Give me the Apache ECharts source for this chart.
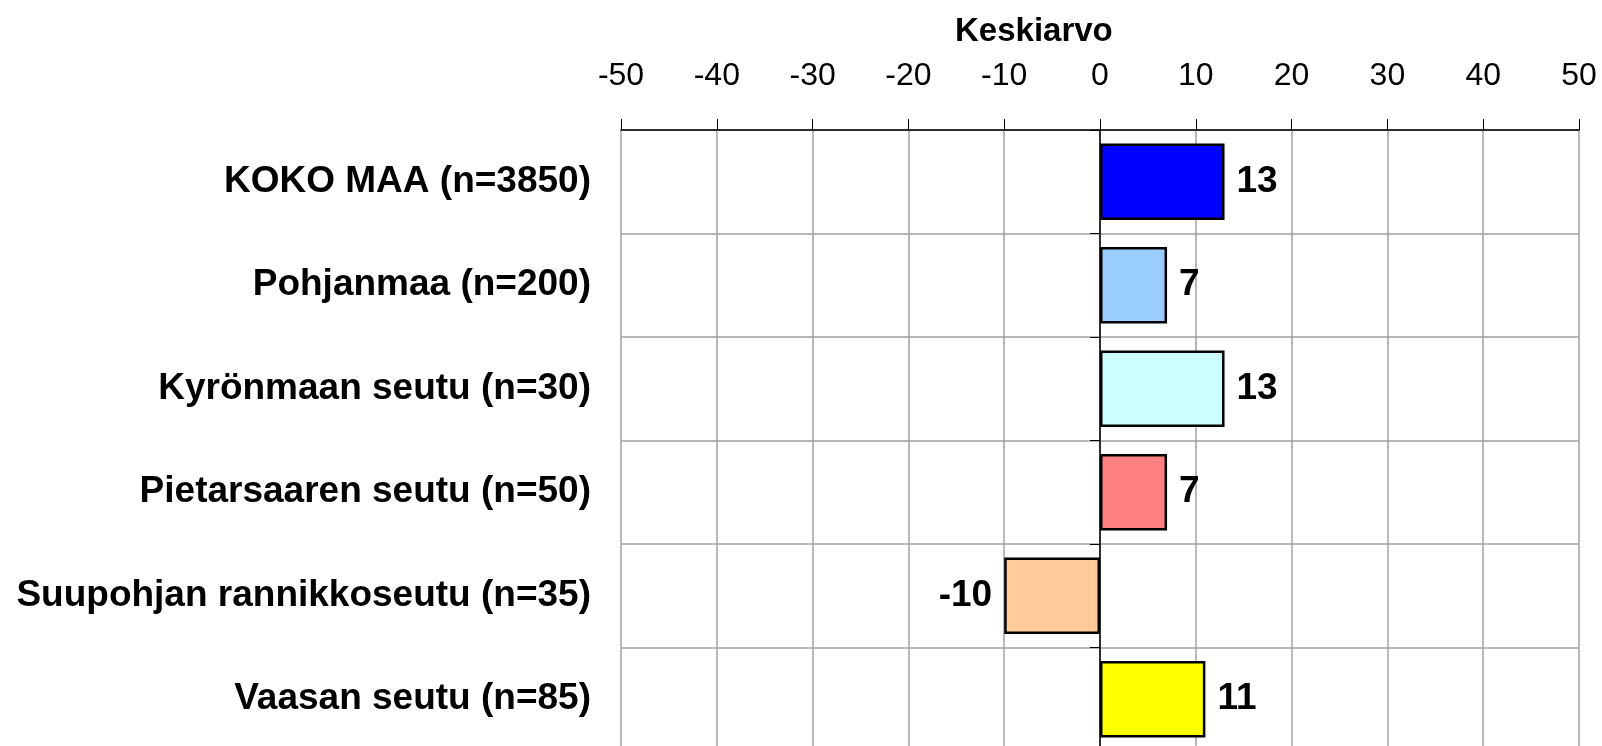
<!DOCTYPE html>
<html>
<head>
<meta charset="utf-8">
<script src="https://cdn.jsdelivr.net/npm/echarts@6/dist/echarts.min.js"></script>
<style>
  html, body { margin: 0; padding: 0; background: #fff; }
  #chart { width: 1602px; height: 746px; }
</style>
</head>
<body>
<div id="chart"></div>
<script>
// Data
const categories = [
  "KOKO MAA (n=3850)",
  "Pohjanmaa (n=200)",
  "Kyrönmaan seutu (n=30)",
  "Pietarsaaren seutu (n=50)",
  "Suupohjan rannikkoseutu (n=35)",
  "Vaasan seutu (n=85)"
];
const values = [13, 7, 13, 7, -10, 11];
const barColors = ["#0000ff", "#99ccff", "#ccffff", "#ff8080", "#ffcc99", "#ffff00"];
const axisName = "Keskiarvo";

const font = "'Liberation Sans', Arial, sans-serif";

const chart = echarts.init(document.getElementById("chart"));

const option = {
  animation: false,
  textStyle: { fontFamily: font },
  title: {
    text: axisName,
    left: 950,
    top: 10,
    textStyle: { fontFamily: font, fontSize: 33, fontWeight: "bold", color: "#000" }
  },
  grid: { left: 621, right: 23, top: 130, height: 621, containLabel: false, outerBoundsMode: "none" },
  xAxis: {
    type: "value",
    position: "top",
    min: -50,
    max: 50,
    interval: 10,
    axisLine: { show: true, lineStyle: { color: "#000", width: 1.5 } },
    axisTick: { show: true, length: 11, lineStyle: { color: "#000" } },
    axisLabel: { fontSize: 32, color: "#000", margin: 38, fontFamily: font },
    splitLine: { show: true, lineStyle: { color: "#a0a0a0", width: 1.5 } }
  },
  yAxis: {
    type: "category",
    data: categories,
    inverse: true,
    axisLine: { show: true, onZero: true, lineStyle: { color: "#000", width: 1.5 } },
    axisTick: { show: true, length: 10, lineStyle: { color: "#000" } },
    axisLabel: {
      fontSize: 37, fontWeight: "bold", color: "#000", margin: 30, fontFamily: font
    },
    splitLine: { show: true, lineStyle: { color: "#a0a0a0", width: 1.5 } }
  },
  series: [{
    type: "bar",
    barCategoryGap: "26%",
    data: values.map((v, i) => ({
      value: v,
      itemStyle: { color: barColors[i] },
      label: { position: v < 0 ? "left" : "right" }
    })),
    itemStyle: { borderColor: "#000", borderWidth: 2.5 },
    label: {
      show: true,
      distance: 12,
      fontSize: 37,
      fontWeight: "bold",
      color: "#000",
      fontFamily: font
    }
  }]
};

chart.setOption(option);
</script>
</body>
</html>
